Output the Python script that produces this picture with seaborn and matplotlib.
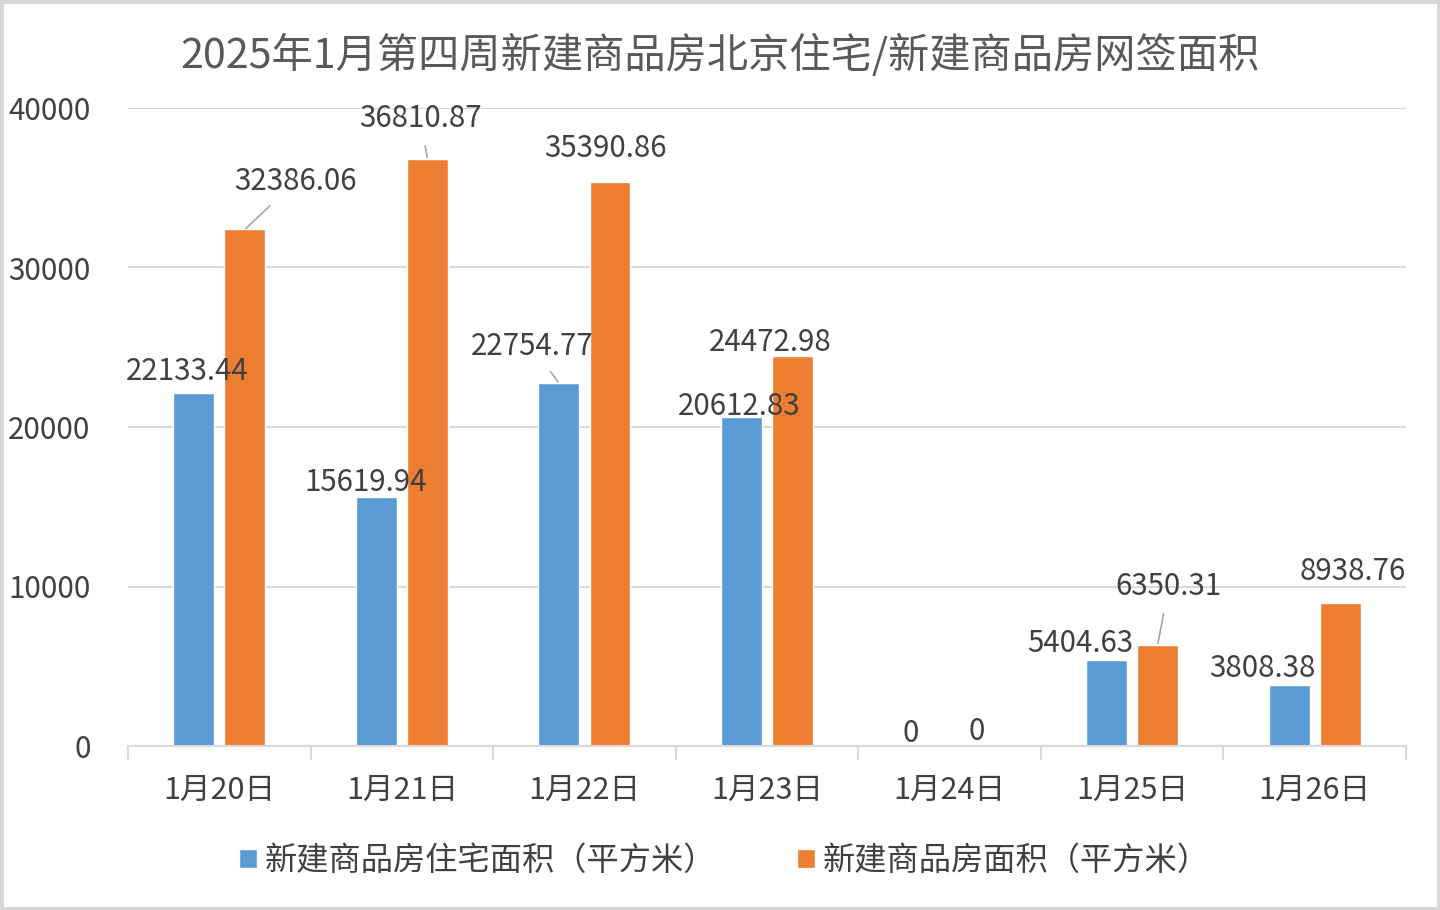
import pandas as pd
import matplotlib.pyplot as plt
from matplotlib.ticker import FixedLocator
import seaborn as sns

# data
dates = ['1月20日', '1月21日', '1月22日', '1月23日', '1月24日', '1月25日', '1月26日']
residential = [22133.44, 15619.94, 22754.77, 20612.83, 0, 5404.63, 3808.38]
total = [32386.06, 36810.87, 35390.86, 24472.98, 0, 6350.31, 8938.76]
series_names = ['新建商品房住宅面积（平方米）', '新建商品房面积（平方米）']
title = '2025年1月第四周新建商品房北京住宅/新建商品房网签面积'

# label placement (pixel offsets from the bar top), some with leader lines
label_offsets = [
    [(-6, 21), (-11, 14), (-27, 37), (-2, 11), (-13, 12), (-26, 16), (-27, 17)],
    [(51, 48), (-7, 40), (-5, 33), (-22, 13), (2, 14), (11, 58), (12, 32)],
]
leaders = [
    [False, False, True, False, False, False, False],
    [True, True, False, False, False, True, False],
]

df = pd.DataFrame({
    'date': dates * 2,
    'value': residential + total,
    'series': [series_names[0]] * len(dates) + [series_names[1]] * len(dates),
})

sns.set_theme(style='white')
plt.rcParams['font.family'] = ['Noto Sans CJK SC', 'DejaVu Sans']
txt = '#404040'

fig = plt.figure(figsize=(14.4, 9.1), dpi=100)
fig.patch.set_edgecolor('#D9D9D9')
fig.patch.set_linewidth(5)
ax = fig.add_axes([128/1440, 164/910, (1406-128)/1440, (802-164)/910])

sns.barplot(data=df, x='date', y='value', hue='series', order=dates,
            hue_order=series_names, palette=['#5B9BD5', '#ED7D31'],
            width=0.56, gap=0.2, ax=ax, saturation=1)

ax.set_ylim(0, 40000)
ax.set_xlim(-0.5, len(dates) - 0.5)
ax.set_yticks([0, 10000, 20000, 30000, 40000])
ax.yaxis.grid(True, color='#D9D9D9', lw=1.5)
ax.set_axisbelow(True)
ax.set_xlabel('')
ax.set_ylabel('')
for s in ['left', 'top', 'right']:
    ax.spines[s].set_visible(False)
ax.spines['bottom'].set_color('#D9D9D9')
ax.spines['bottom'].set_linewidth(1.5)

ax.tick_params(axis='y', length=0, pad=27, labelsize=21.3, labelcolor=txt)
ax.tick_params(axis='x', which='major', length=0, pad=21, labelsize=22, labelcolor=txt)
ax.xaxis.set_minor_locator(FixedLocator([i - 0.5 for i in range(len(dates) + 1)]))
ax.tick_params(axis='x', which='minor', length=10, width=1.5, color='#D9D9D9', bottom=True)

for k, cont in enumerate(ax.containers):
    for j, bar in enumerate(cont):
        xc = bar.get_x() + bar.get_width() / 2
        h = bar.get_height()
        val = [residential, total][k][j]
        lab = '0' if val == 0 else f'{val:.2f}'
        props = None
        if leaders[k][j]:
            props = dict(arrowstyle='-', color='#A6A6A6', lw=1.2, shrinkA=6, shrinkB=1)
        ax.annotate(lab, xy=(xc, h), xytext=label_offsets[k][j], textcoords='offset pixels',
                    ha='center', va='center', fontsize=21.2, color=txt, arrowprops=props)

ax.legend(loc='center', bbox_to_anchor=(0.503, 1 - 861/910), bbox_transform=fig.transFigure,
          ncol=2, frameon=False, fontsize=23.2, labelcolor=txt, handlelength=0.55,
          handleheight=0.55, handletextpad=0.25, columnspacing=2.5)

fig.text(0.5, 1 - 55/910, title, ha='center', va='center', fontsize=29.7, color='#595959')

fig.savefig('out.png', dpi=100)
